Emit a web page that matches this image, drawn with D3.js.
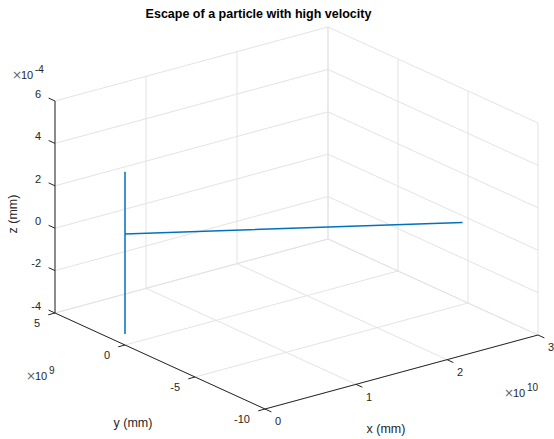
<!DOCTYPE html>
<html>
<head>
<meta charset="utf-8">
<title>escape</title>
<script src="https://cdn.jsdelivr.net/npm/d3@7/dist/d3.min.js"></script>
<style>
  body{margin:0;background:#fff;}
  text{font-family:"Liberation Sans",Arial,sans-serif;fill:#262626;}
</style>
</head>
<body>
<svg width="554" height="439" id="mainsvg"></svg>
<script>
// tick values and labels
const xTicks=[0,1e10,2e10,3e10];
const xTickLabels=['0','1','2','3'];
const yTicks=[5e9,0,-5e9,-10e9];
const yTickLabels=['5','0','-5','-10'];
const zTicks=[-4e-4,-2e-4,0,2e-4,4e-4,6e-4];
const zTickLabels=['-4','-2','0','2','4','6'];

// particle path (mm)
const pathX=[0,0,0,2.5e10];
const pathY=[0,0,0,-7.86e9];
const pathZ=[-3.48e-4,4.17e-4,1.24e-4,1.24e-4];

const svg=d3.select('#mainsvg');
const corner=[55,313]; // screen pos of (xmin, ymax, zmin)
const xMin=0,xMax=3e10,yMin=-10e9,yMax=5e9,zMin=-4e-4,zMax=6e-4;

// each scale gives a screen offset [dx,dy]
const xScale=d3.scaleLinear().domain([xMin,xMax]).range([[0,0],[273,-74]]);
const yScale=d3.scaleLinear().domain([yMax,yMin]).range([[0,0],[210,96]]);
const zScale=d3.scaleLinear().domain([zMin,zMax]).range([[0,0],[0,-212]]);

function proj(x,y,z){
    const [ax,ay]=xScale(x);
    const [bx,by]=yScale(y);
    const [cx,cy]=zScale(z);
    return [corner[0]+ax+bx+cx, corner[1]+ay+by+cy];
}
function seg(g,p,q,color,w){
    const a=proj(...p),b=proj(...q);
    g.append('line').attr('x1',a[0]).attr('y1',a[1]).attr('x2',b[0]).attr('y2',b[1])
     .attr('stroke',color).attr('stroke-width',w);
}

// grid
const grid=svg.append('g');
const gc='#e3e3e3';
xTicks.forEach(x=>{
    seg(grid,[x,yMax,zMin],[x,yMin,zMin],gc,1);
    seg(grid,[x,yMax,zMin],[x,yMax,zMax],gc,1);
});
yTicks.forEach(y=>{
    seg(grid,[xMin,y,zMin],[xMax,y,zMin],gc,1);
    seg(grid,[xMax,y,zMin],[xMax,y,zMax],gc,1);
});
zTicks.forEach(z=>{
    seg(grid,[xMin,yMax,z],[xMax,yMax,z],gc,1);
    seg(grid,[xMax,yMax,z],[xMax,yMin,z],gc,1);
});

// axes
const ax=svg.append('g');
const ac='#262626';
seg(ax,[xMin,yMax,zMin],[xMin,yMax,zMax],ac,1);
seg(ax,[xMin,yMax,zMin],[xMin,yMin,zMin],ac,1);
seg(ax,[xMin,yMin,zMin],[xMax,yMin,zMin],ac,1);

function unit(v){const l=Math.hypot(v[0],v[1]);return [v[0]/l,v[1]/l];}
const tl=7;
const zDir=unit(yScale(yMin).map(d=>-d));   // along +y
const yDir=unit(xScale(xMax).map(d=>-d));   // along -x
const xDir=unit(yScale(yMin).slice());      // along -y

zTicks.forEach((z,i)=>{
    const p=proj(xMin,yMax,z);
    ax.append('line').attr('x1',p[0]).attr('y1',p[1])
      .attr('x2',p[0]+zDir[0]*tl).attr('y2',p[1]+zDir[1]*tl).attr('stroke',ac);
    ax.append('text').attr('x',p[0]-14).attr('y',p[1]-7).attr('dy','0.35em')
      .attr('text-anchor','end').attr('font-size',11).text(zTickLabels[i]);
});
yTicks.forEach((y,i)=>{
    const p=proj(xMin,y,zMin);
    ax.append('line').attr('x1',p[0]).attr('y1',p[1])
      .attr('x2',p[0]+yDir[0]*tl).attr('y2',p[1]+yDir[1]*tl).attr('stroke',ac);
    ax.append('text').attr('x',p[0]-15).attr('y',p[1]+10).attr('dy','0.35em')
      .attr('text-anchor','end').attr('font-size',11).text(yTickLabels[i]);
});
xTicks.forEach((x,i)=>{
    const p=proj(x,yMin,zMin);
    ax.append('line').attr('x1',p[0]).attr('y1',p[1])
      .attr('x2',p[0]+xDir[0]*tl).attr('y2',p[1]+xDir[1]*tl).attr('stroke',ac);
    ax.append('text').attr('x',p[0]+10).attr('y',p[1]+12.5).attr('dy','0.35em')
      .attr('text-anchor','start').attr('font-size',11).text(xTickLabels[i]);
});

// particle line
const pts=pathX.map((x,i)=>proj(x,pathY[i],pathZ[i]));
svg.append('path').attr('d',d3.line()(pts)).attr('fill','none')
   .attr('stroke','#0072BD').attr('stroke-width',1.5);

// exponent labels
function expo(x,y,e){
    const g=svg.append('g');
    g.append('text').attr('x',x).attr('y',y).attr('font-size',12)
     .style('font-family','"DejaVu Sans"').style('fill','#666').text('×');
    g.append('text').attr('x',x+9).attr('y',y).attr('font-size',11).text('10');
    g.append('text').attr('x',x+23).attr('y',y-6).attr('font-size',10).text(e);
}
expo(12,79,'-4');
expo(26,380,'9');
expo(504,397,'10');

// axis labels
svg.append('text').attr('transform','translate(17,214) rotate(-90)')
   .attr('text-anchor','middle').attr('font-size',12.5).text('z (mm)');
svg.append('text').attr('x',133).attr('y',426.5)
   .attr('text-anchor','middle').attr('font-size',12.5).text('y (mm)');
svg.append('text').attr('x',386).attr('y',432.5)
   .attr('text-anchor','middle').attr('font-size',12.5).text('x (mm)');

// title
svg.append('text').attr('x',258.5).attr('y',18)
   .attr('text-anchor','middle').attr('font-size',12.5).attr('font-weight','bold')
   .style('fill','#000').text('Escape of a particle with high velocity');
</script>
</body>
</html>
